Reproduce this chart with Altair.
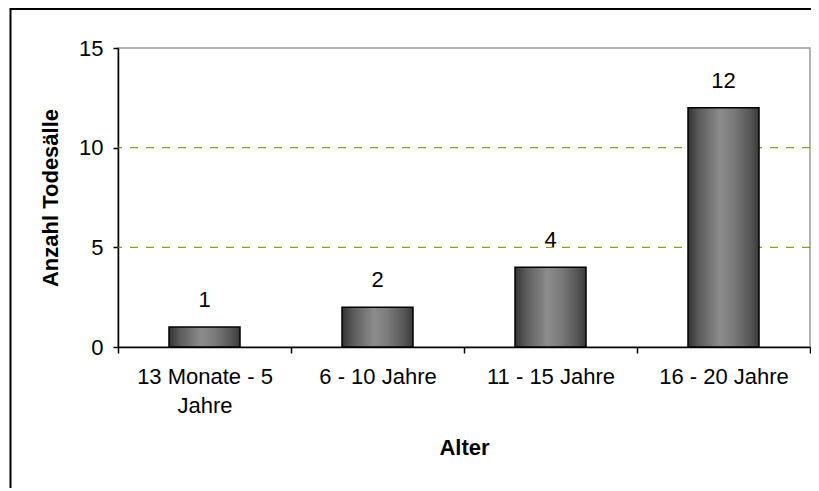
import altair as alt
import pandas as pd

categories = ["13 Monate - 5 Jahre", "6 - 10 Jahre", "11 - 15 Jahre", "16 - 20 Jahre"]
values = [1, 2, 4, 12]
y_ticks = [0, 5, 10, 15]
grid_values = [5, 10]

FONT = "Liberation Sans"
FS = 22

df = pd.DataFrame({"Alter": categories, "Anzahl": values})
grid_df = pd.DataFrame({"g": grid_values})

wrap_expr = (
    f"datum.value == '{categories[0]}' ? ['13 Monate - 5', 'Jahre'] : datum.value"
)

x_enc = alt.X(
    "Alter:N",
    sort=categories,
    scale=alt.Scale(paddingInner=0, paddingOuter=0),
    axis=alt.Axis(
        title="Alter",
        labelAngle=0,
        labelFont=FONT,
        labelFontSize=FS,
        labelColor="black",
        labelPadding=13,
        labelLineHeight=29,
        labelExpr=wrap_expr,
        labelOverlap=False,
        labelLimit=400,
        tickBand="extent",
        tickSize=6,
        tickColor="black",
        tickWidth=1.5,
        domainColor="black",
        domainWidth=1.5,
        titleFont=FONT,
        titleFontSize=FS,
        titleFontWeight="bold",
        titleColor="black",
        titlePadding=21,
        grid=False,
    ),
)

y_scale = alt.Scale(domain=[0, 15], nice=False)
y_axis = alt.Axis(
    values=y_ticks,
    title="Anzahl Todesälle",
    grid=False,
    labelFont=FONT,
    labelFontSize=FS,
    labelColor="black",
    labelPadding=10,
    tickSize=5,
    tickColor="black",
    tickWidth=1.5,
    domainColor="black",
    domainWidth=1.5,
    titleFont=FONT,
    titleFontSize=FS,
    titleFontWeight="bold",
    titleColor="black",
    titlePadding=16,
)

grid = alt.Chart(grid_df).mark_rule(
    color="#808000", strokeDash=[8, 8], strokeWidth=1
).encode(y=alt.Y("g:Q", scale=y_scale, axis=y_axis, title="Anzahl Todesälle"))

gradient = alt.LinearGradient(
    gradient="linear",
    x1=0, x2=1, y1=0, y2=0,
    stops=[
        alt.GradientStop(color="#333333", offset=0),
        alt.GradientStop(color="#5a5a5a", offset=0.15),
        alt.GradientStop(color="#8c8c8c", offset=0.45),
        alt.GradientStop(color="#7a7a7a", offset=0.65),
        alt.GradientStop(color="#555555", offset=0.88),
        alt.GradientStop(color="#3a3a3a", offset=1),
    ],
)

bars = alt.Chart(df).mark_bar(
    size=71, color=gradient, stroke="black", strokeWidth=1.5
).encode(
    x=x_enc,
    y=alt.Y("Anzahl:Q", scale=y_scale, axis=y_axis, title="Anzahl Todesälle"),
)

labels = alt.Chart(df).mark_text(
    font=FONT, fontSize=FS, color="black", baseline="alphabetic", dy=-20
).encode(x=alt.X("Alter:N", sort=categories), y="Anzahl:Q", text="Anzahl:Q")

border = alt.Chart(alt.Data(values=[{"a": 1}])).mark_rect(
    fillOpacity=0, stroke="black", strokeWidth=2
).encode(
    x=alt.value(-107.5), x2=alt.value(720), y=alt.value(-39), y2=alt.value(460)
)

chart = (
    alt.layer(grid, bars, labels, border)
    .properties(
        width=692,
        height=299,
        autosize=alt.AutoSizeParams(type="none"),
        padding={"left": 110, "top": 40, "right": 1, "bottom": 141},
        background="white",
    )
    .configure_view(stroke="#999999", strokeWidth=1.5)
)

chart.save("out.html", embed_options={"renderer": "svg", "actions": False})
